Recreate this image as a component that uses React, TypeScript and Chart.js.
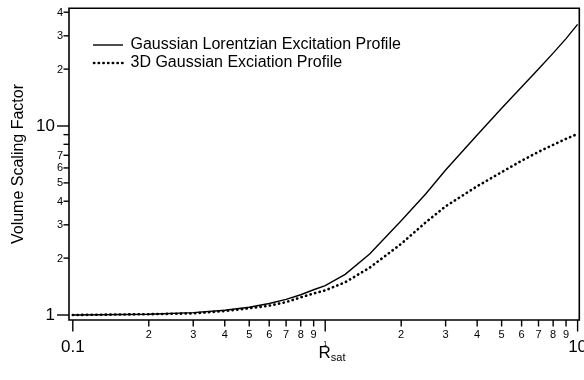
import React, { useEffect, useRef } from "react";
import { Chart, registerables } from "chart.js";

Chart.register(...registerables);

// Saturation ratio (R_sat) sample points
const rsat = [0.1, 0.2, 0.3, 0.4, 0.5, 0.6, 0.7, 0.8, 0.9, 1, 1.2, 1.5, 2, 2.5, 3, 4, 5, 6, 7, 8, 9, 10];
// Volume scaling factor, Gaussian Lorentzian excitation profile
const gaussLorentz = [1.0, 1.01, 1.03, 1.06, 1.1, 1.15, 1.21, 1.28, 1.36, 1.43, 1.64, 2.1, 3.15, 4.37, 5.85, 8.97, 12.4, 16.1, 20.0, 24.3, 29.0, 34.5];
// Volume scaling factor, 3D Gaussian excitation profile
const gauss3d = [1.0, 1.01, 1.02, 1.05, 1.085, 1.12, 1.17, 1.24, 1.3, 1.35, 1.49, 1.78, 2.38, 3.09, 3.76, 4.8, 5.7, 6.55, 7.3, 7.95, 8.55, 9.08];

const seriesNames = ["Gaussian Lorentzian Excitation Profile", "3D Gaussian Exciation Profile"];

// Axis ticks
const xMajorTicks = [0.1, 1, 10];
const xMajorLabels = ["0.1", "1", "10"];
const xMinorTicks = [0.2, 0.3, 0.4, 0.5, 0.6, 0.7, 0.8, 0.9, 2, 3, 4, 5, 6, 7, 8, 9];
const xMinorLabels = ["2", "3", "4", "5", "6", "7", "8", "9", "2", "3", "4", "5", "6", "7", "8", "9"];
const yMajorTicks = [1, 10];
const yMajorLabels = ["1", "10"];
const yMinorTicks = [2, 3, 4, 5, 6, 7, 8, 9, 20, 30, 40];
const yMinorLabels = ["2", "3", "4", "5", "6", "7", "", "", "2", "3", "4"];

const FONT = '"Liberation Sans", Arial, Helvetica, sans-serif';
const INK = "#000";

const axesPlugin = {
  id: "logAxes",
  afterDraw(chart: any) {
    const ctx: CanvasRenderingContext2D = chart.ctx;
    const { left, right, top, bottom } = chart.chartArea;
    const xs = chart.scales.x;
    const ys = chart.scales.y;
    ctx.save();
    ctx.strokeStyle = INK;
    ctx.fillStyle = INK;

    // frame
    ctx.lineWidth = 1.6;
    ctx.beginPath();
    ctx.rect(left, top, right - left, bottom - top);
    ctx.stroke();

    // x ticks
    ctx.lineWidth = 1.4;
    ctx.textAlign = "center";
    ctx.textBaseline = "middle";
    xMinorTicks.forEach((v, i) => {
      const px = xs.getPixelForValue(v);
      ctx.beginPath();
      ctx.moveTo(px, bottom);
      ctx.lineTo(px, bottom + 6.5);
      ctx.stroke();
      ctx.font = `11px ${FONT}`;
      ctx.fillText(xMinorLabels[i], px, bottom + 14.5);
    });
    xMajorTicks.forEach((v, i) => {
      const px = xs.getPixelForValue(v);
      ctx.beginPath();
      ctx.moveTo(px, bottom);
      ctx.lineTo(px, bottom + 11.5);
      ctx.stroke();
      if (xMajorLabels[i] === "1") {
        ctx.font = `7px ${FONT}`;
        ctx.fillText(xMajorLabels[i], px, bottom + 24);
      } else {
        ctx.font = `17px ${FONT}`;
        ctx.fillText(xMajorLabels[i], px, bottom + 27.5);
      }
    });

    // y ticks
    ctx.textAlign = "right";
    yMinorTicks.forEach((v, i) => {
      const py = ys.getPixelForValue(v);
      ctx.beginPath();
      ctx.moveTo(left, py);
      ctx.lineTo(left - 5.5, py);
      ctx.stroke();
      if (yMinorLabels[i]) {
        ctx.font = `11px ${FONT}`;
        ctx.fillText(yMinorLabels[i], left - 6, py + 0.5);
      }
    });
    yMajorTicks.forEach((v, i) => {
      const py = ys.getPixelForValue(v);
      ctx.beginPath();
      ctx.moveTo(left, py);
      ctx.lineTo(left - 12, py);
      ctx.stroke();
      ctx.font = `17px ${FONT}`;
      ctx.fillText(yMajorLabels[i], left - 14, py + 0.5);
    });

    // y title
    ctx.save();
    ctx.translate(19, 164);
    ctx.rotate(-Math.PI / 2);
    ctx.textAlign = "center";
    ctx.textBaseline = "middle";
    ctx.font = `16px ${FONT}`;
    ctx.fillText("Volume Scaling Factor", 0, 0);
    ctx.restore();

    // x title: R with "sat" subscript
    ctx.textAlign = "left";
    ctx.textBaseline = "alphabetic";
    ctx.font = `17px ${FONT}`;
    const rW = ctx.measureText("R").width;
    ctx.font = `11px ${FONT}`;
    const sW = ctx.measureText("sat").width;
    const x0 = 331 - (rW + sW) / 2 + 1;
    ctx.font = `17px ${FONT}`;
    ctx.fillText("R", x0, 357.5);
    ctx.font = `11px ${FONT}`;
    ctx.fillText("sat", x0 + rW, 361);

    // legend
    const lx0 = 93;
    const lx1 = 123;
    ctx.textBaseline = "middle";
    ctx.font = `16px ${FONT}`;
    ctx.lineWidth = 1.4;
    ctx.beginPath();
    ctx.moveTo(lx0, 45);
    ctx.lineTo(lx1, 45);
    ctx.stroke();
    ctx.fillText(seriesNames[0], 130.5, 45);
    ctx.lineWidth = 2.6;
    ctx.lineCap = "round";
    ctx.setLineDash([0.3, 4.4]);
    ctx.beginPath();
    ctx.moveTo(lx0 + 1, 63);
    ctx.lineTo(lx1, 63);
    ctx.stroke();
    ctx.setLineDash([]);
    ctx.fillText(seriesNames[1], 130.5, 63);

    ctx.restore();
  },
};

export default function App() {
  const canvasRef = useRef<HTMLCanvasElement | null>(null);

  useEffect(() => {
    document.body.style.margin = "0";
    const canvas = canvasRef.current;
    if (!canvas) return;
    const chart = new Chart(canvas, {
      type: "line",
      data: {
        datasets: [
          {
            label: seriesNames[0],
            data: rsat.map((x, i) => ({ x, y: gaussLorentz[i] })),
            borderColor: INK,
            borderWidth: 1.4,
            pointRadius: 0,
            tension: 0,
          },
          {
            label: seriesNames[1],
            data: rsat.map((x, i) => ({ x, y: gauss3d[i] })),
            borderColor: INK,
            borderWidth: 2.6,
            borderDash: [0.3, 4.4],
            borderCapStyle: "round",
            pointRadius: 0,
            tension: 0,
          },
        ],
      },
      options: {
        responsive: false,
        animation: false,
        events: [],
        layout: { padding: { left: 69, right: 4.7, top: 8.3, bottom: 60 } },
        scales: {
          x: { type: "logarithmic", min: 0.0966, max: 10.156, display: false },
          y: { type: "logarithmic", min: 0.941, max: 41.95, display: false },
        },
        plugins: {
          legend: { display: false },
          tooltip: { enabled: false },
        },
      },
      plugins: [axesPlugin],
    });
    return () => chart.destroy();
  }, []);

  return (
    <div style={{ width: 584, height: 380, background: "#fff" }}>
      <canvas ref={canvasRef} width={584} height={380} />
    </div>
  );
}
